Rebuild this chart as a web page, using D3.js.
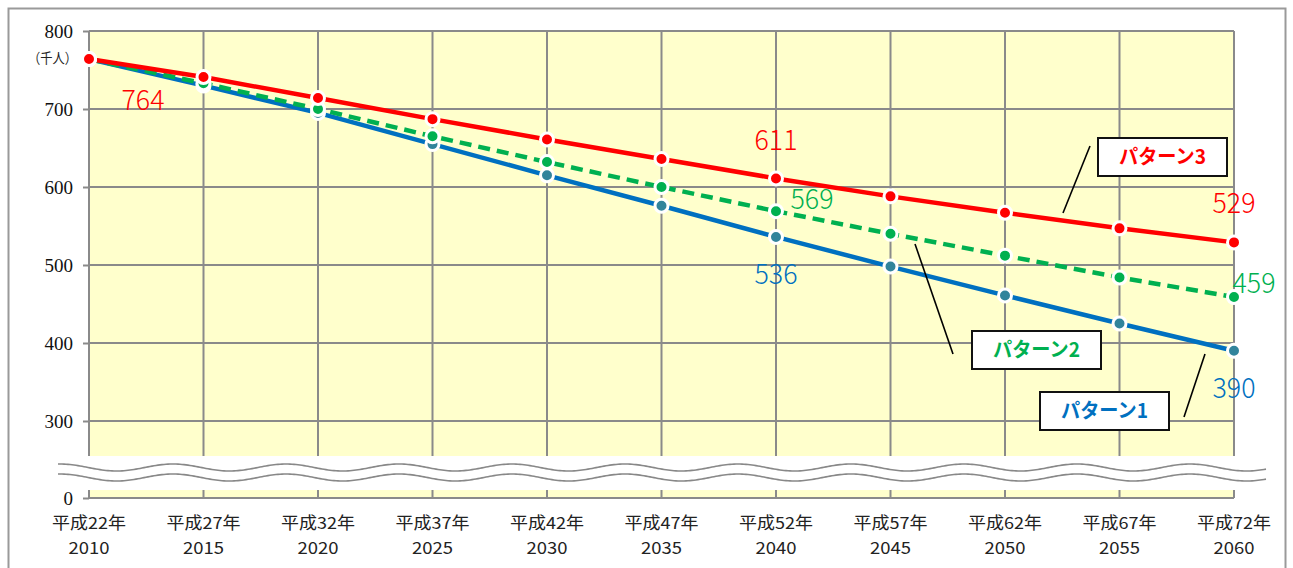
<!DOCTYPE html>
<html><head><meta charset="utf-8">
<script src="https://cdn.jsdelivr.net/npm/d3@7"></script>
<style>
html,body{margin:0;padding:0;background:#fff;}
svg{display:block;}
</style></head>
<body>
<script>
const years = [2010,2015,2020,2025,2030,2035,2040,2045,2050,2055,2060];
const eraLabels = ["平成22年","平成27年","平成32年","平成37年","平成42年","平成47年","平成52年","平成57年","平成62年","平成67年","平成72年"];
const pattern1 = [764,730,695,655,615,576,536,498,461,425,390];
const pattern2 = [764,733,700,665,632,600,569,540,512,484,459];
const pattern3 = [764,741,714,687,661,636,611,588,567,547,529];
const seriesNames = ["パターン1","パターン2","パターン3"];
const yTicks = [0,300,400,500,600,700,800];
const yGrid = [300,400,500,600,700,800];
const unitLabel = "（千人）";

const W = 1293, H = 568;
const svg = d3.select("body").append("svg").attr("width", W).attr("height", H);

svg.append("rect").attr("x", 8.5).attr("y", 8.5).attr("width", 1277).attr("height", 580)
  .attr("fill", "#fff").attr("stroke", "#9a9a9a").attr("stroke-width", 2);

const x = d3.scaleLinear().domain([2010, 2060]).range([89, 1234]);
const y = d3.scaleLinear().domain([0, 300, 800]).range([498, 421, 31]);

svg.append("rect").attr("x", x(2010)).attr("y", y(800)).attr("width", x(2060) - x(2010)).attr("height", y(0) - y(800))
  .attr("fill", "#FFFFCC");

const gridColor = "#8a8a8a";
svg.append("g").selectAll("line").data(yGrid).join("line")
  .attr("x1", x(2010)).attr("x2", x(2060)).attr("y1", d => y(d)).attr("y2", d => y(d))
  .attr("stroke", gridColor).attr("stroke-width", 2);
svg.append("g").selectAll("line").data(years).join("line")
  .attr("x1", d => x(d)).attr("x2", d => x(d)).attr("y1", y(800)).attr("y2", y(0))
  .attr("stroke", gridColor).attr("stroke-width", 2);

const yAxis = d3.axisLeft(y).tickValues(yTicks).tickSize(6).tickPadding(10).tickFormat(d3.format("d"));
const ya = svg.append("g").attr("transform", `translate(${x(2010)},0)`).call(yAxis);
ya.attr("font-family", "'Liberation Serif','Times New Roman',serif").attr("font-size", 19);
ya.select(".domain").remove();
ya.selectAll(".tick line").attr("stroke", gridColor).attr("stroke-width", 2);
ya.selectAll(".tick text").attr("fill", "#111")
  .attr("font-family", "'Liberation Serif','Times New Roman',serif").attr("font-size", 19);
svg.append("line").attr("x1", x(2010)).attr("x2", x(2060)).attr("y1", y(0)).attr("y2", y(0))
  .attr("stroke", gridColor).attr("stroke-width", 2);

svg.append("text").attr("x", 28).attr("y", 63)
  .attr("font-family", "'Noto Sans CJK JP',sans-serif").attr("font-size", 14).attr("fill", "#222")
  .attr("textLength", 49).attr("lengthAdjust", "spacingAndGlyphs")
  .text(unitLabel);

svg.append("g").selectAll("text").data(years).join("text")
  .attr("x", d => x(d) - 37).attr("y", 529)
  .attr("font-family", "'Noto Sans CJK JP',sans-serif").attr("font-size", 16.5).attr("fill", "#222")
  .attr("textLength", 74).attr("lengthAdjust", "spacingAndGlyphs")
  .text((d, i) => eraLabels[i]);
svg.append("g").selectAll("text").data(years).join("text")
  .attr("x", d => x(d) - 20.5).attr("y", 554)
  .attr("font-family", "'Noto Sans CJK JP',sans-serif").attr("font-size", 16.5).attr("fill", "#222")
  .attr("textLength", 41).attr("lengthAdjust", "spacingAndGlyphs")
  .text(d => d);

svg.append("rect").attr("x", 57).attr("y", 456).attr("width", 1266 - 57).attr("height", 34).attr("fill", "#fff");
function wave(y0) {
  const pts = [];
  for (let px = 58; px <= 1266; px += 2) {
    pts.push([px, y0 - 3.5 * Math.cos(2 * Math.PI * (px - 173) / 113)]);
  }
  return d3.line()(pts);
}
svg.append("path").attr("d", wave(467.5)).attr("fill", "none").attr("stroke", "#888").attr("stroke-width", 1.6);
svg.append("path").attr("d", wave(477.5)).attr("fill", "none").attr("stroke", "#888").attr("stroke-width", 1.6);

const series = [
  {vals: pattern1, line: "#0070C0", dot: "#31849B", dash: null},
  {vals: pattern2, line: "#00B050", dot: "#00B050", dash: "12,7"},
  {vals: pattern3, line: "#FF0000", dot: "#FF0000", dash: null}
];
const lineGen = d3.line().x((d, i) => x(years[i])).y(d => y(d));
series.forEach(s => {
  svg.append("path").attr("d", lineGen(s.vals)).attr("fill", "none")
    .attr("stroke", s.line).attr("stroke-width", 4.5)
    .attr("stroke-dasharray", s.dash);
});
series.forEach(s => {
  svg.append("g").selectAll("circle").data(s.vals).join("circle")
    .attr("cx", (d, i) => x(years[i])).attr("cy", d => y(d)).attr("r", 6.5)
    .attr("fill", s.dot).attr("stroke", "#fff").attr("stroke-width", 3);
});

const labelFont = "'Noto Sans CJK JP','Noto Sans',sans-serif";
const valueLabels = [
  {yr: 2010, v: pattern3[0], c: "#FF0000", dx: 54, dy: 51},
  {yr: 2040, v: pattern3[6], c: "#FF0000", dx: 0, dy: -28},
  {yr: 2060, v: pattern3[10], c: "#FF0000", dx: 0, dy: -29},
  {yr: 2040, v: pattern2[6], c: "#00B050", dx: 36, dy: -2},
  {yr: 2060, v: pattern2[10], c: "#00B050", dx: 20, dy: -4},
  {yr: 2040, v: pattern1[6], c: "#0070C0", dx: 0, dy: 47},
  {yr: 2060, v: pattern1[10], c: "#0070C0", dx: 0, dy: 47}
];
svg.append("g").selectAll("text").data(valueLabels).join("text")
  .attr("x", d => x(d.yr) + d.dx - 21.5).attr("y", d => y(d.v) + d.dy)
  .attr("font-family", labelFont).attr("font-size", 28).attr("font-weight", 300)
  .attr("textLength", 43).attr("lengthAdjust", "spacingAndGlyphs")
  .attr("fill", d => d.c).text(d => d.v);

const callouts = [
  {name: seriesNames[2], c: "#FF0000", bx: 1098, by: 138, lx1: 1090, ly1: 146, lx2: 1063, ly2: 213},
  {name: seriesNames[1], c: "#00B050", bx: 972, by: 331, lx1: 915, ly1: 244, lx2: 953, ly2: 354},
  {name: seriesNames[0], c: "#0070C0", bx: 1040, by: 392, lx1: 1205, ly1: 354, lx2: 1184, ly2: 417}
];
callouts.forEach(cl => {
  svg.append("line").attr("x1", cl.lx1).attr("y1", cl.ly1).attr("x2", cl.lx2).attr("y2", cl.ly2)
    .attr("stroke", "#000").attr("stroke-width", 1.6);
  svg.append("rect").attr("x", cl.bx).attr("y", cl.by).attr("width", 129).attr("height", 38)
    .attr("fill", "#fff").attr("stroke", "#111").attr("stroke-width", 2);
  svg.append("text").attr("x", cl.bx + 21).attr("y", cl.by + 26)
    .attr("font-family", "'Noto Sans CJK JP',sans-serif").attr("font-weight", "bold").attr("font-size", 20)
    .attr("textLength", 87).attr("lengthAdjust", "spacingAndGlyphs")
    .attr("fill", cl.c).text(cl.name);
});
</script>
</body></html>
